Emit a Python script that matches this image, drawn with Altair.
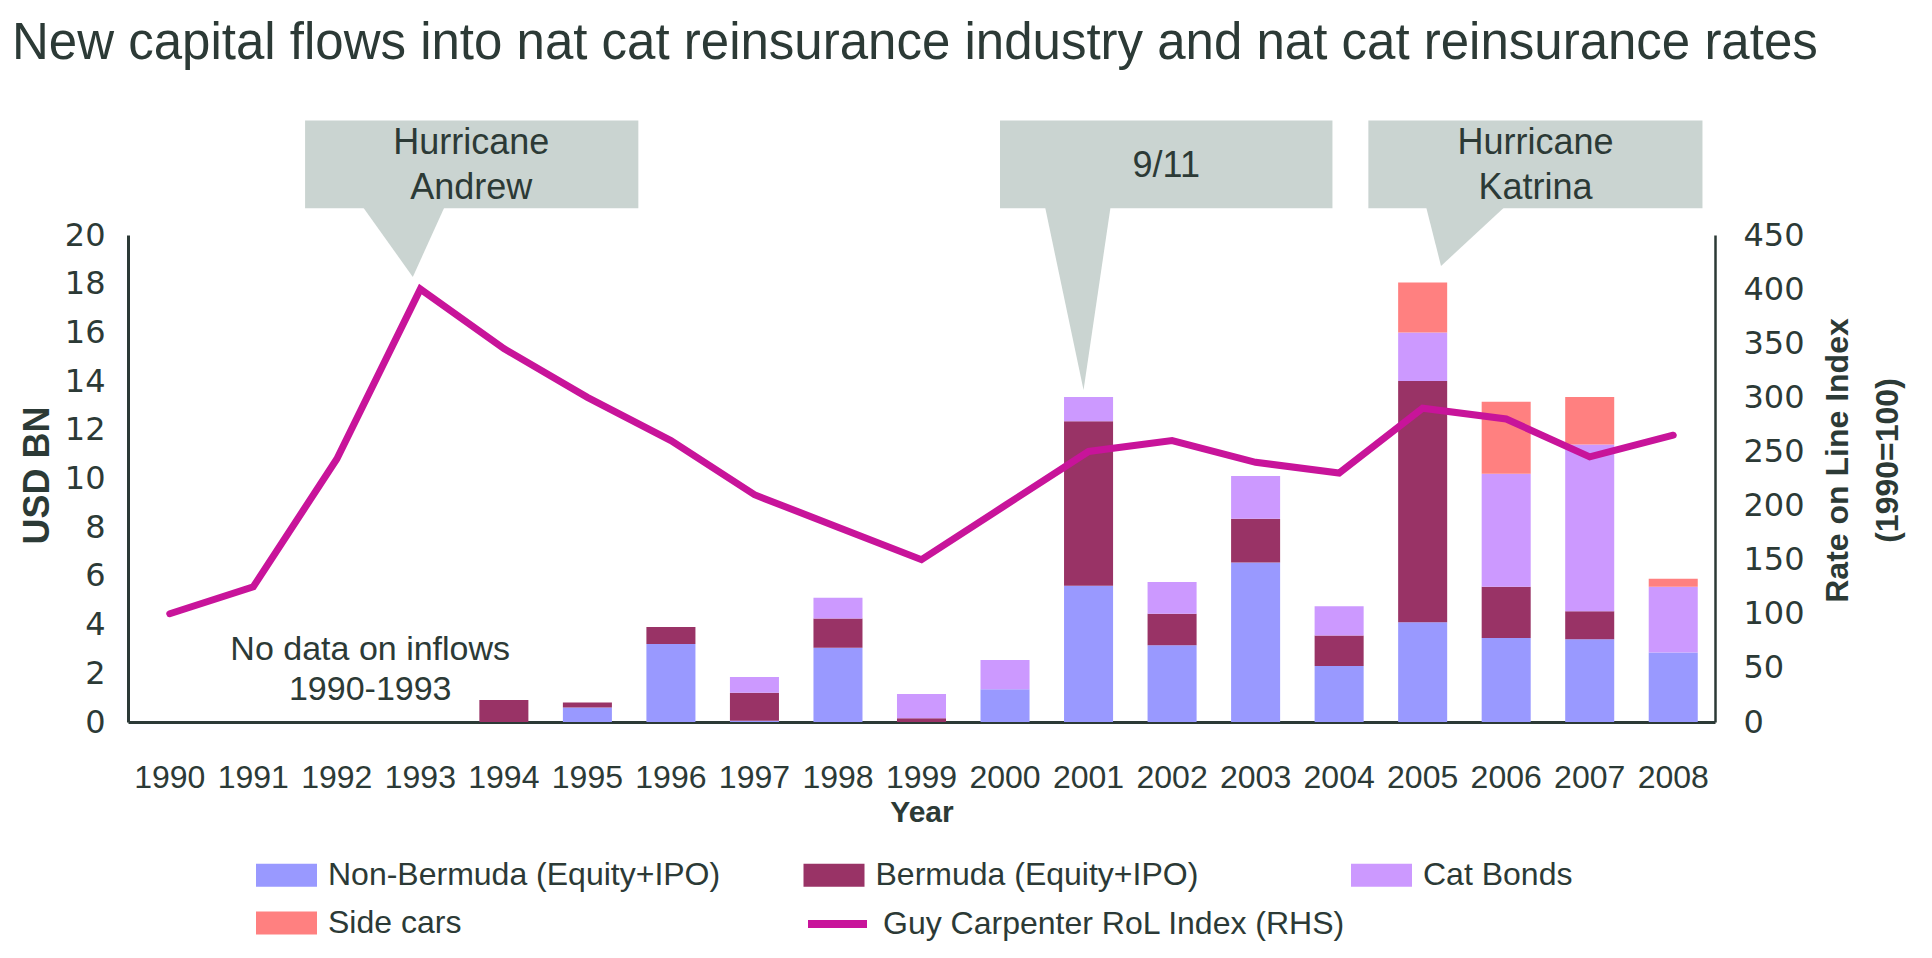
import altair as alt
import pandas as pd

FONT = "Liberation Sans"
TICKFONT = "DejaVu Sans"
DARK = "#2C3A36"
GRAY = "#CAD4D1"

# ---------------- data ----------------
years = [str(y) for y in range(1990, 2009)]
series = ["Non-Bermuda (Equity+IPO)", "Bermuda (Equity+IPO)", "Cat Bonds", "Side cars"]
series_colors = ["#9999FF", "#993366", "#CC99FF", "#FF8080"]

non_bermuda = [0, 0, 0, 0, 0.0, 0.6, 3.2, 0.05, 3.05, 0.0, 1.35, 5.6, 3.15, 6.55, 2.3, 4.1, 3.45, 3.4, 2.85]
bermuda     = [0, 0, 0, 0, 0.9, 0.2, 0.7, 1.15, 1.2, 0.15, 0.0, 6.75, 1.3, 1.8, 1.25, 9.9, 2.1, 1.15, 0.0]
cat_bonds   = [0, 0, 0, 0, 0.0, 0.0, 0.0, 0.65, 0.85, 1.0, 1.2, 1.0, 1.3, 1.75, 1.2, 2.0, 4.65, 6.85, 2.7]
side_cars   = [0, 0, 0, 0, 0.0, 0.0, 0.0, 0.0, 0.0, 0.0, 0.0, 0.0, 0.0, 0.0, 0.0, 2.05, 2.95, 1.95, 0.33]

line_name = "Guy Carpenter RoL Index (RHS)"
line_color = "#C8149A"
rol_index = [100, 125, 243, 400, 345, 300, 260, 210, 180, 150, 200, 250, 260, 240, 230, 290, 280, 245, 265]

# callouts (x in year units, y in left-axis units; text y = first line)
call_text = ["Hurricane\nAndrew", "9/11", "Hurricane\nKatrina"]
call_x1 = [1991.62, 1999.94, 2004.35]
call_x2 = [1995.61, 2003.92, 2008.35]
call_y1 = [21.1, 21.1, 21.1]
call_y2 = [24.7, 24.7, 24.7]
call_tx = [1993.61, 2001.93, 2006.35]
call_ty = [23.76, 22.85, 23.76]

ptr_id = [0, 0, 1, 1, 2, 2]
ptr_y = [21.3, 18.28, 21.3, 13.63, 21.3, 18.73]
ptr_x = [1992.28, 1992.91, 2000.47, 2000.94, 2005.03, 2005.22]
ptr_x2 = [1993.31, 1992.91, 2001.27, 2000.94, 2006.03, 2005.22]

note_text = ["No data on inflows\n1990-1993"]
note_x = [1992.40]
note_y = [2.96]

# ---------------- tables ----------------
rows = []
for i, yr in enumerate(years):
    for k, vals in enumerate([non_bermuda, bermuda, cat_bonds, side_cars]):
        rows.append({"year": yr, "series": series[k], "value": vals[i], "order": k})
bars_df = pd.DataFrame(rows)
line_df = pd.DataFrame({"year": years, "rol": rol_index, "series": [line_name] * len(years)})
call_df = pd.DataFrame({"text": call_text, "x1": call_x1, "x2": call_x2, "y1": call_y1,
                        "y2": call_y2, "tx": call_tx, "ty": call_ty})
ptr_df = pd.DataFrame({"id": ptr_id, "x": ptr_x, "x2": ptr_x2, "y": ptr_y})
note_df = pd.DataFrame({"text": note_text, "x": note_x, "y": note_y})

ax_x = alt.Scale(domain=[1989.5, 2008.5], nice=False, zero=False)
ax_y = alt.Scale(domain=[0, 20], nice=False, zero=False)

# ---------------- layers ----------------
bars = alt.Chart(bars_df).mark_bar().encode(
    x=alt.X("year:N", sort=years,
            scale=alt.Scale(paddingInner=0.413, paddingOuter=0.2065),
            axis=alt.Axis(title="Year", labelAngle=0, ticks=False, grid=False,
                          labelFontSize=32, labelPadding=40, labelFont=FONT, labelColor=DARK,
                          titleFontSize=30, titleFontWeight="bold", titleFont=FONT, titleColor=DARK,
                          titlePadding=4, domainWidth=3, domainColor=DARK)),
    y=alt.Y("value:Q", stack="zero", scale=alt.Scale(domain=[0, 20], nice=False),
            axis=alt.Axis(orient="left", values=list(range(0, 21, 2)), ticks=False, grid=False,
                          labelFontSize=32, labelPadding=23, labelFont=TICKFONT, labelColor=DARK,
                          domainWidth=3, domainColor=DARK,
                          title="USD BN", titleFontSize=36, titleFontWeight="bold", titleFont=FONT,
                          titleColor=DARK, titleAngle=270, titleX=-91, titleY=240,
                          titleBaseline="middle", titleAlign="center")),
    color=alt.Color("series:N", sort=series,
                    scale=alt.Scale(domain=series, range=series_colors),
                    legend=alt.Legend(title=None, orient="none", legendX=128, legendY=609.5,
                                      direction="horizontal", columns=3, gridAlign="all",
                                      columnPadding=82.5, rowPadding=1,
                                      symbolType="M-1,-0.377H1V0.377H-1Z", symbolSize=3721,
                                      symbolStrokeWidth=0, symbolOpacity=1, labelOffset=11,
                                      labelFontSize=32, labelFont=FONT, labelColor=DARK,
                                      labelLimit=1000, padding=0)),
    order=alt.Order("order:Q", sort="ascending"),
)

line = alt.Chart(line_df).mark_line(strokeWidth=7, strokeCap="round").encode(
    x=alt.X("year:N", sort=years, scale=alt.Scale(type="point", padding=0.5), axis=None),
    y=alt.Y("rol:Q", scale=alt.Scale(domain=[0, 450], nice=False),
            axis=alt.Axis(orient="right", values=list(range(0, 451, 50)), ticks=False, grid=False,
                          labelFontSize=32, labelPadding=28, labelFont=TICKFONT, labelColor=DARK,
                          domainWidth=2.5, domainColor=DARK,
                          title=["Rate on Line Index", "(1990=100)"], titleFontSize=32,
                          titleFontWeight="bold", titleFont=FONT, titleColor=DARK,
                          titleAngle=270, titleLineHeight=50, titleX=122, titleY=225,
                          titleBaseline="middle", titleAlign="center")),
    color=alt.Color("series:N", scale=alt.Scale(domain=[line_name], range=[line_color]),
                    legend=alt.Legend(title=None, orient="none", legendX=676, legendY=655.5,
                                      symbolType="M-1,0H1", symbolSize=3481, symbolStrokeWidth=8,
                                      labelOffset=12, labelFontSize=32, labelFont=FONT,
                                      labelColor=DARK, labelLimit=1000, padding=0)),
)

boxes = alt.Chart(call_df).mark_rect(color=GRAY).encode(
    x=alt.X("x1:Q", scale=ax_x, axis=None), x2="x2:Q",
    y=alt.Y("y1:Q", scale=ax_y, axis=None), y2="y2:Q",
)

pointers = alt.Chart(ptr_df).mark_area(orient="horizontal", color=GRAY, opacity=1).encode(
    y=alt.Y("y:Q", scale=ax_y, axis=None),
    x=alt.X("x:Q", scale=ax_x, axis=None), x2="x2:Q",
    detail="id:N",
)

box_text = alt.Chart(call_df).mark_text(lineBreak="\n", fontSize=36, lineHeight=45, font=FONT,
                                        color=DARK, align="center", baseline="middle").encode(
    x=alt.X("tx:Q", scale=ax_x, axis=None),
    y=alt.Y("ty:Q", scale=ax_y, axis=None),
    text="text:N",
)

note = alt.Chart(note_df).mark_text(lineBreak="\n", fontSize=34, lineHeight=40, font=FONT,
                                    color=DARK, align="center", baseline="middle").encode(
    x=alt.X("x:Q", scale=ax_x, axis=None),
    y=alt.Y("y:Q", scale=ax_y, axis=None),
    text="text:N",
)

chart = alt.layer(bars, line, pointers, boxes, box_text, note).resolve_scale(
    x="independent", y="independent", color="independent"
).resolve_legend(color="independent").properties(
    width=1587, height=487,
    title=alt.TitleParams(
        "New capital flows into nat cat reinsurance industry and nat cat reinsurance rates",
        anchor="start", frame="group", fontSize=51, fontWeight="normal", font=FONT, color=DARK,
        dx=-116, offset=11, baseline="alphabetic"),
    autosize=alt.AutoSizeParams(type="none"),
    padding={"left": 128, "top": 235, "right": 217, "bottom": 236},
    background="white",
).configure_view(stroke=None)

chart.save("out.html", embed_options={"renderer": "svg", "actions": False})
